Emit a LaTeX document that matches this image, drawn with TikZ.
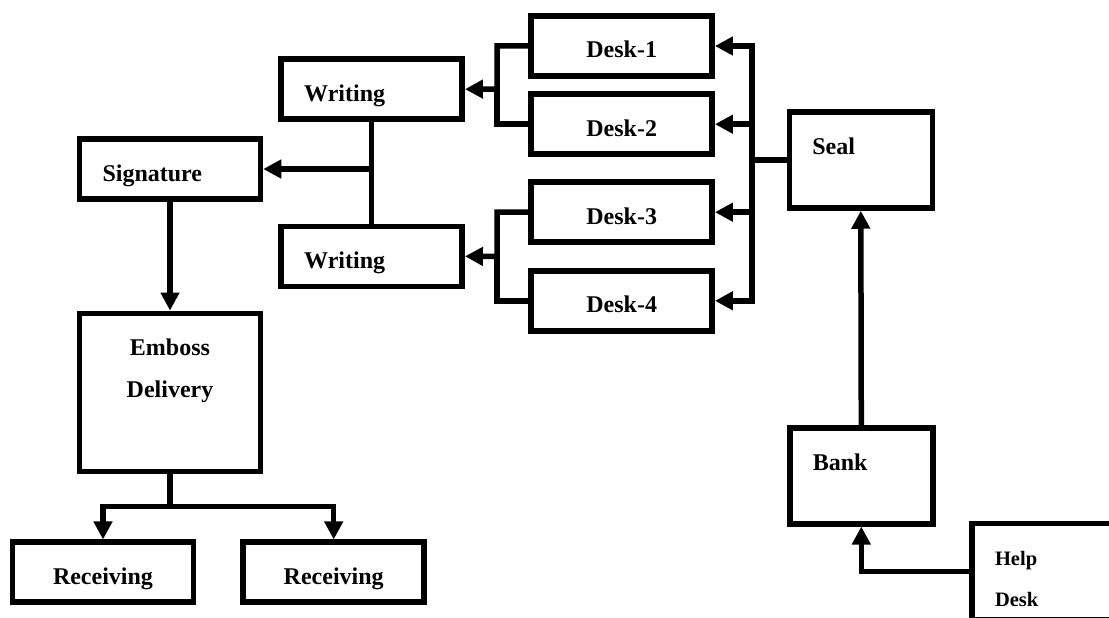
\documentclass[tikz,border=0pt]{standalone}
\usepackage{fontspec}
\setmainfont{Liberation Serif}
\usetikzlibrary{arrows.meta,calc}
\tikzset{
  box/.style={draw, line width=5.5pt, inner sep=0pt,
              font=\bfseries\fontsize{24}{28}\selectfont,
              minimum width=181pt, minimum height=60pt,
              text height=24pt, text depth=0pt},
  leftbox/.style={box, text width=135pt, inner xsep=23pt, align=left},
  tallbox/.style={leftbox, minimum width=143pt, text width=97pt,
                  minimum height=96pt, text height=16pt, text depth=27.5pt},
  conn/.style={line width=5.5pt},
  flow/.style={conn, -{Triangle[length=18pt,width=18pt]}},
}
\begin{document}
\begin{tikzpicture}[x=1pt,y=-1pt]
  \useasboundingbox (0,0) rectangle (1109,618);
  \clip (0,0) rectangle (1109,618);
  % desks
  \node[box] (desk1) at (621.7,46)    {Desk-1};
  \node[box] (desk2) at (621.7,124.2) {Desk-2};
  \node[box] (desk3) at (621.7,212.2) {Desk-3};
  \node[box] (desk4) at (621.7,300.8) {Desk-4};
  % writing and signature
  \node[leftbox] (write1) at (371.7,89.2)  {Writing};
  \node[leftbox] (write2) at (371.7,256.3) {Writing};
  \node[leftbox] (sig)    at (170,169)     {Signature};
  % emboss and receiving
  \node[box, text width=161pt, inner xsep=10pt, align=center,
        minimum height=158pt, text depth=97pt, font=\bfseries\fontsize{24}{42}\selectfont]
        (emboss) at (170,392.3) {Emboss\\Delivery};
  \node[box] (recv1) at (103,572.2)   {Receiving};
  \node[box] (recv2) at (333.7,572.2) {Receiving};
  % seal, bank, help desk
  \node[tallbox] (seal) at (860.8,160) {Seal};
  \node[tallbox] (bank) at (861.3,475.8) {Bank};
  \node[tallbox, font=\bfseries\fontsize{20.5}{41}\selectfont,
        text height=14pt, text depth=25.5pt]
        (help) at (1043.5,571.5) {Help\\Desk};
  % junctions
  \coordinate (sbus)  at (752,160);
  \coordinate (wbus1) at (497,89);
  \coordinate (wbus2) at (497,256.5);
  \coordinate (split) at (170,506.7);
  % flows
  \draw[flow] (seal.west) -- (sbus) |- (desk1.east);
  \draw[flow] (sbus) |- (desk2.east);
  \draw[flow] (sbus) |- (desk3.east);
  \draw[flow] (sbus) |- (desk4.east);
  \draw[flow] (desk1.west) -| (wbus1) -- (write1.east);
  \draw[conn] (desk2.west) -| (wbus1);
  \draw[flow] (desk3.west) -| (wbus2) -- (write2.east);
  \draw[conn] (desk4.west) -| (wbus2);
  \draw[conn] (write1.south) -- (write2.north);
  \draw[flow] (write1.south |- sig.east) -- (sig.east);
  \draw[flow] (sig.south) -- (emboss.north);
  \draw[flow] (emboss.south) -- (split) -| (recv1.north);
  \draw[flow] (split) -| (recv2.north);
  \draw[flow] (bank.north) -- (seal.south);
  \draw[flow] (help.west) -| (bank.south);
\end{tikzpicture}
\end{document}
